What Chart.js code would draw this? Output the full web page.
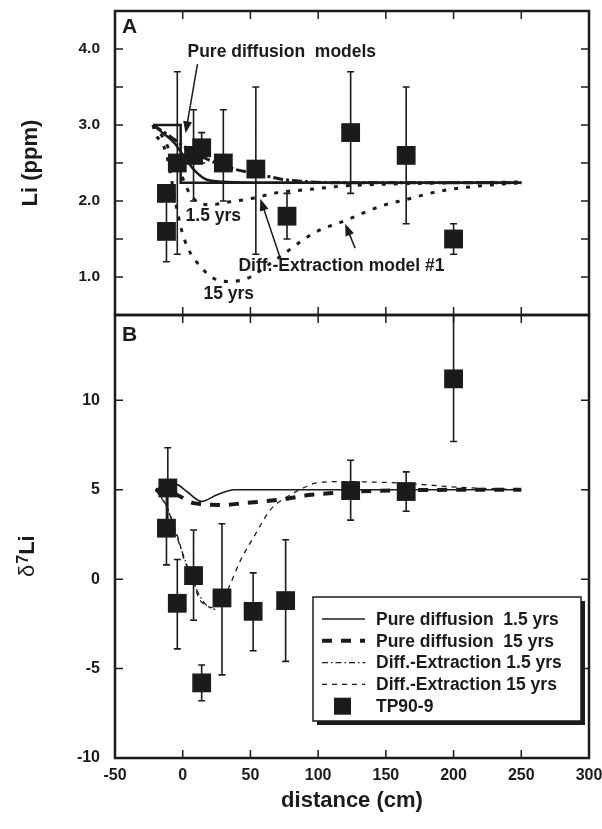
<!DOCTYPE html>
<html>
  <head>
    <title>Li and d7Li profiles, TP90-9</title>
    <script src="https://cdn.jsdelivr.net/npm/chart.js"></script>
    <style>
      body {
        margin: 0;
        background: #fff;
      }

      #wrap {
        position: relative;
        width: 602px;
        height: 829px;
      }

      canvas {
        position: absolute;
        left: 0;
      }

      #chartA {
        top: 0;
      }

      #chartB {
        top: 305px;
      }
    </style>
  </head>
  <body>
    <div id="wrap">
      <canvas id="chartB" width="602" height="524"></canvas>
      <canvas id="chartA" width="602" height="320"></canvas>
    </div>

    <script>
      // x axis (distance, cm)
      const xTicks = [-50, 0, 50, 100, 150, 200, 250, 300];

      // Panel A: Li (ppm)
      const liTickLabels = [1, 2, 3, 4];
      const liTickMarks = [1, 1.5, 2, 2.5, 3, 3.5, 4];
      const liX = [-12, -12, -4, 8, 14, 30, 54, 77, 124, 165, 200];
      const liVal = [1.6, 2.1, 2.5, 2.6, 2.7, 2.5, 2.42, 1.8, 2.9, 2.6, 1.5];
      const liLow = [1.2, 2.1, 1.3, 2.0, 2.5, 2.0, 1.3, 1.5, 2.1, 1.7, 1.3];
      const liHigh = [2.0, 2.1, 3.7, 3.2, 2.9, 3.2, 3.5, 2.1, 3.7, 3.5, 1.7];

      // initial step profile
      const stepX = [-22, -1.5, -1.5, 250];
      const stepY = [3.0, 3.0, 2.24, 2.24];
      // pure diffusion curves (panel A)
      const pdA1X = [-22, -15, -6.5, 0.8, 9.4, 18, 33, 60, 250];
      const pdA1Y = [3.0, 2.9, 2.77, 2.59, 2.39, 2.28, 2.25, 2.24, 2.24];
      const pdA15X = [-22, -10, 0.8, 18, 38, 57, 72, 87, 116, 250];
      const pdA15Y = [3.0, 2.86, 2.72, 2.55, 2.42, 2.35, 2.29, 2.26, 2.24, 2.24];
      // diffusion-extraction curves (panel A)
      const deA1X = [-22, -15, -8, 0, 5, 10, 20, 35, 50, 70, 92, 121, 170, 250];
      const deA1Y = [3.0, 2.85, 2.6, 2.3, 2.1, 2.0, 1.95, 1.99, 2.03, 2.11, 2.15, 2.2, 2.23, 2.25];
      const deA15X = [-22, -20, -14, -10, -6.5, -1.6, 3.3, 13, 23, 35, 50, 60, 72, 97, 121, 146, 165, 190, 220, 250];
      const deA15Y = [3.0, 2.88, 2.72, 2.46, 2.1, 1.67, 1.4, 1.14, 0.98, 0.94, 1.0, 1.12, 1.27, 1.58, 1.75, 1.93, 2.02, 2.13, 2.2, 2.24];

      // Panel B: d7Li
      const d7TickLabels = [-10, -5, 0, 5, 10];
      const d7X = [-12, -11, -4, 8, 14, 29, 52, 76, 124, 165, 200];
      const d7Val = [2.85, 5.1, -1.35, 0.2, -5.8, -1.05, -1.8, -1.2, 4.95, 4.9, 11.2];
      const d7Low = [0.8, 2.9, -3.9, -2.3, -6.8, -5.35, -4.0, -4.6, 3.3, 3.8, 7.7];
      const d7High = [5.0, 7.35, 1.1, 2.75, -4.8, 3.1, 0.35, 2.2, 6.65, 6.0, 16];

      const pdB1X = [-20, -10, -5, 3, 14, 25, 38, 250];
      const pdB1Y = [5.0, 5.3, 5.3, 4.9, 4.35, 4.7, 5.0, 5.0];
      const pdB15X = [-20, -4, 8, 30, 45, 60, 77, 93, 108, 138, 170, 250];
      const pdB15Y = [5.0, 4.7, 4.25, 4.15, 4.25, 4.35, 4.5, 4.7, 4.8, 4.93, 4.98, 5.0];
      const deB1X = [-20, -12, -4, 4, 11, 18, 24];
      const deB1Y = [5.0, 4.1, 2.3, 0.6, -0.7, -1.5, -1.7];
      const deB15X = [-20, -11, -3, 1, 8, 11, 18, 24, 30, 35, 43, 52, 65, 77, 89, 97, 111, 153, 175, 205, 220, 250];
      const deB15Y = [5.0, 3.9, 2.2, 1.1, 0.0, -0.9, -1.5, -1.6, -1.1, -0.3, 1.1, 2.3, 3.9, 4.6, 5.1, 5.35, 5.45, 5.4, 5.3, 5.13, 5.08, 5.0];

      const INK = "#1b1b1b";
      const FONT = "'Liberation Sans', Arial, sans-serif";
      const TICK = 8;

      Chart.defaults.font.family = FONT;
      Chart.defaults.font.weight = "bold";
      Chart.defaults.color = INK;

      function xy(xs, ys) {
        return xs.map((v, i) => ({ x: v, y: ys[i] }));
      }

      function lineSet(label, xs, ys, width, dash, smooth) {
        return {
          label: label,
          data: xy(xs, ys),
          showLine: true,
          borderColor: INK,
          borderWidth: width,
          borderDash: dash,
          pointRadius: 0,
          cubicInterpolationMode: smooth ? "monotone" : "default",
          tension: 0,
        };
      }

      function squareSet(xs, ys) {
        return {
          label: "TP90-9",
          data: xy(xs, ys),
          pointStyle: "rect",
          pointRadius: 13.3,
          backgroundColor: INK,
          borderWidth: 0,
        };
      }

      // keep the plot area where the layout puts it
      function fixY(s) {
        s.width = 115;
        s.paddingTop = 0;
        s.paddingBottom = 0;
      }

      // frame and inward tick marks
      function drawFrame(chart, yMarks) {
        const { ctx, chartArea: a, scales } = chart;
        ctx.save();
        ctx.strokeStyle = INK;
        ctx.lineWidth = 1.5;
        ctx.beginPath();
        xTicks.forEach((v) => {
          const px = scales.x.getPixelForValue(v);
          ctx.moveTo(px, a.top);
          ctx.lineTo(px, a.top + TICK);
          ctx.moveTo(px, a.bottom);
          ctx.lineTo(px, a.bottom - TICK);
        });
        yMarks.forEach((v) => {
          const py = scales.y.getPixelForValue(v);
          ctx.moveTo(a.left, py);
          ctx.lineTo(a.left + TICK, py);
          ctx.moveTo(a.right, py);
          ctx.lineTo(a.right - TICK, py);
        });
        ctx.stroke();
        ctx.lineWidth = 2.5;
        ctx.strokeRect(a.left, a.top, a.right - a.left, a.bottom - a.top);
        ctx.restore();
      }

      function drawErrors(chart, xs, lows, highs) {
        const { ctx, chartArea: a, scales } = chart;
        ctx.save();
        ctx.beginPath();
        ctx.rect(a.left, a.top, a.right - a.left, a.bottom - a.top);
        ctx.clip();
        ctx.strokeStyle = INK;
        ctx.lineWidth = 1.6;
        ctx.beginPath();
        xs.forEach((v, i) => {
          if (lows[i] === highs[i]) return;
          const px = scales.x.getPixelForValue(v);
          const y1 = scales.y.getPixelForValue(lows[i]);
          const y2 = scales.y.getPixelForValue(highs[i]);
          ctx.moveTo(px, y1);
          ctx.lineTo(px, y2);
          ctx.moveTo(px - 3.5, y1);
          ctx.lineTo(px + 3.5, y1);
          ctx.moveTo(px - 3.5, y2);
          ctx.lineTo(px + 3.5, y2);
        });
        ctx.stroke();
        ctx.restore();
      }

      function drawArrow(ctx, x1, y1, x2, y2) {
        const ang = Math.atan2(y2 - y1, x2 - x1);
        ctx.beginPath();
        ctx.moveTo(x1, y1);
        ctx.lineTo(x2 - 9 * Math.cos(ang), y2 - 9 * Math.sin(ang));
        ctx.stroke();
        ctx.beginPath();
        ctx.moveTo(x2, y2);
        ctx.lineTo(x2 - 12 * Math.cos(ang) + 4.5 * Math.sin(ang), y2 - 12 * Math.sin(ang) - 4.5 * Math.cos(ang));
        ctx.lineTo(x2 - 12 * Math.cos(ang) - 4.5 * Math.sin(ang), y2 - 12 * Math.sin(ang) + 4.5 * Math.cos(ang));
        ctx.closePath();
        ctx.fill();
      }

      // labels placed in data units of panel A
      const notesA = [
        { text: "Pure diffusion  models", x: 3.5, y: 3.89 },
        { text: "1.5 yrs", x: 2.1, y: 1.74 },
        { text: "15 yrs", x: 15.3, y: 0.71 },
        { text: "Diff.-Extraction model #1", x: 41.1, y: 1.08 },
      ];
      const arrowsA = [
        { from: [10.9, 3.8], to: [2.1, 2.89] },
        { from: [72, 1.25], to: [57.3, 2.03] },
        { from: [127.3, 1.38], to: [120, 1.7] },
      ];

      const panelA = {
        id: "panelA",
        beforeDatasetsDraw(chart) {
          drawErrors(chart, liX, liLow, liHigh);
        },
        afterDraw(chart) {
          const { ctx, chartArea: a, scales } = chart;
          drawFrame(chart, liTickMarks);
          ctx.save();
          ctx.fillStyle = INK;
          ctx.strokeStyle = INK;
          ctx.lineWidth = 1.5;
          ctx.font = "bold 21px " + FONT;
          ctx.fillText("A", a.left + 7, a.top + 22);
          ctx.font = "bold 17.5px " + FONT;
          notesA.forEach((n) => {
            ctx.fillText(n.text, scales.x.getPixelForValue(n.x), scales.y.getPixelForValue(n.y));
          });
          arrowsA.forEach((r) => {
            drawArrow(
              ctx,
              scales.x.getPixelForValue(r.from[0]),
              scales.y.getPixelForValue(r.from[1]),
              scales.x.getPixelForValue(r.to[0]),
              scales.y.getPixelForValue(r.to[1])
            );
          });
          ctx.restore();
        },
      };

      const panelB = {
        id: "panelB",
        beforeDatasetsDraw(chart) {
          drawErrors(chart, d7X, d7Low, d7High);
        },
        afterDraw(chart) {
          const { ctx, chartArea: a } = chart;
          drawFrame(chart, [-5, 0, 5, 10]);
          ctx.save();
          ctx.fillStyle = INK;
          ctx.font = "bold 21px " + FONT;
          ctx.fillText("B", a.left + 7, a.top + 26);

          // y title: delta 7 Li
          ctx.save();
          ctx.translate(34, a.top + 262);
          ctx.rotate(-Math.PI / 2);
          ctx.font = "22px " + FONT;
          ctx.fillText("δ", 0, 0);
          let w = ctx.measureText("δ").width;
          ctx.font = "bold 16px " + FONT;
          ctx.fillText("7", w + 1, -6);
          w += ctx.measureText("7").width + 1;
          ctx.font = "bold 22px " + FONT;
          ctx.fillText("Li", w, 0);
          ctx.restore();

          // legend box with shadow
          const bx = a.left + 198;
          const by = a.top + 282;
          const bw = 268;
          const bh = 124;
          ctx.fillStyle = "#fff";
          ctx.fillRect(bx, by, bw, bh);
          ctx.fillStyle = INK;
          ctx.fillRect(bx + bw, by + 4, 4, bh);
          ctx.fillRect(bx + 4, by + bh, bw, 4);
          ctx.strokeStyle = INK;
          ctx.lineWidth = 1.5;
          ctx.strokeRect(bx, by, bw, bh);

          const ds = chart.data.datasets;
          const rows = [ds[1], ds[2], ds[3], ds[4], ds[0]];
          const names = [
            "Pure diffusion  1.5 yrs",
            "Pure diffusion  15 yrs",
            "Diff.-Extraction 1.5 yrs",
            "Diff.-Extraction 15 yrs",
            "TP90-9",
          ];
          ctx.font = "bold 17.5px " + FONT;
          ctx.textBaseline = "middle";
          rows.forEach((d, i) => {
            const ry = by + 22 + i * 21.8;
            if (d.showLine) {
              ctx.save();
              ctx.lineWidth = d.borderWidth;
              ctx.setLineDash(d.borderDash || []);
              ctx.beginPath();
              ctx.moveTo(bx + 9, ry);
              ctx.lineTo(bx + 52, ry);
              ctx.stroke();
              ctx.restore();
            } else {
              ctx.fillRect(bx + 21, ry - 8.5, 17, 17);
            }
            ctx.fillText(names[i], bx + 63, ry + 1);
          });
          ctx.restore();
        },
      };

      // Panel A chart
      new Chart(document.getElementById("chartA"), {
        type: "scatter",
        data: {
          datasets: [
            squareSet(liX, liVal),
            lineSet("Initial", stepX, stepY, 2.5, [], false),
            lineSet("Pure diffusion 1.5 yrs", pdA1X, pdA1Y, 2.5, [], true),
            lineSet("Pure diffusion 15 yrs", pdA15X, pdA15Y, 3, [10, 3, 3, 3], true),
            lineSet("Diff.-Extraction 1.5 yrs", deA1X, deA1Y, 3, [4, 8], true),
            lineSet("Diff.-Extraction 15 yrs", deA15X, deA15Y, 3, [4, 8], true),
          ],
        },
        options: {
          responsive: false,
          animation: false,
          layout: { autoPadding: false, padding: { left: 0, right: 13, top: 11, bottom: 5 } },
          plugins: { legend: { display: false }, tooltip: { enabled: false } },
          scales: {
            x: { type: "linear", min: -50, max: 300, display: false },
            y: {
              min: 0.5,
              max: 4.5,
              afterFit: fixY,
              afterBuildTicks: (s) => {
                s.ticks = liTickLabels.map((v) => ({ value: v }));
              },
              ticks: {
                padding: 15,
                color: INK,
                font: { size: 15.5, weight: "bold" },
                callback: (v) => Number(v).toFixed(1),
              },
              grid: { display: false, drawTicks: false },
              border: { display: false },
              title: {
                display: true,
                text: "Li (ppm)",
                color: INK,
                font: { size: 22, weight: "bold" },
                padding: { top: 18 },
              },
            },
          },
        },
        plugins: [panelA],
      });

      // Panel B chart
      new Chart(document.getElementById("chartB"), {
        type: "scatter",
        data: {
          datasets: [
            squareSet(d7X, d7Val),
            lineSet("Pure diffusion 1.5 yrs", pdB1X, pdB1Y, 1.6, [], true),
            lineSet("Pure diffusion 15 yrs", pdB15X, pdB15Y, 4, [10, 9], true),
            lineSet("Diff.-Extraction 1.5 yrs", deB1X, deB1Y, 1.3, [6, 3, 1.5, 3], true),
            lineSet("Diff.-Extraction 15 yrs", deB15X, deB15Y, 1.3, [5, 5], true),
          ],
        },
        options: {
          responsive: false,
          animation: false,
          layout: { autoPadding: false, padding: { left: 0, right: 13, top: 10, bottom: 0 } },
          plugins: { legend: { display: false }, tooltip: { enabled: false } },
          scales: {
            x: {
              type: "linear",
              min: -50,
              max: 300,
              afterFit: (s) => {
                s.height = 71;
                s.paddingLeft = 0;
                s.paddingRight = 0;
              },
              afterBuildTicks: (s) => {
                s.ticks = xTicks.map((v) => ({ value: v }));
              },
              ticks: {
                padding: 8,
                color: INK,
                maxRotation: 0,
                autoSkip: false,
                font: { size: 16, weight: "bold" },
              },
              grid: { display: false, drawTicks: false },
              border: { display: false },
              title: {
                display: true,
                text: "distance (cm)",
                color: INK,
                font: { size: 22, weight: "bold" },
                padding: { bottom: 15 },
              },
            },
            y: {
              min: -10,
              max: 14.77,
              afterFit: fixY,
              afterBuildTicks: (s) => {
                s.ticks = d7TickLabels.map((v) => ({ value: v }));
              },
              ticks: {
                padding: 15,
                color: INK,
                font: { size: 16, weight: "bold" },
              },
              grid: { display: false, drawTicks: false },
              border: { display: false },
            },
          },
        },
        plugins: [panelB],
      });
    </script>
  </body>
</html>
